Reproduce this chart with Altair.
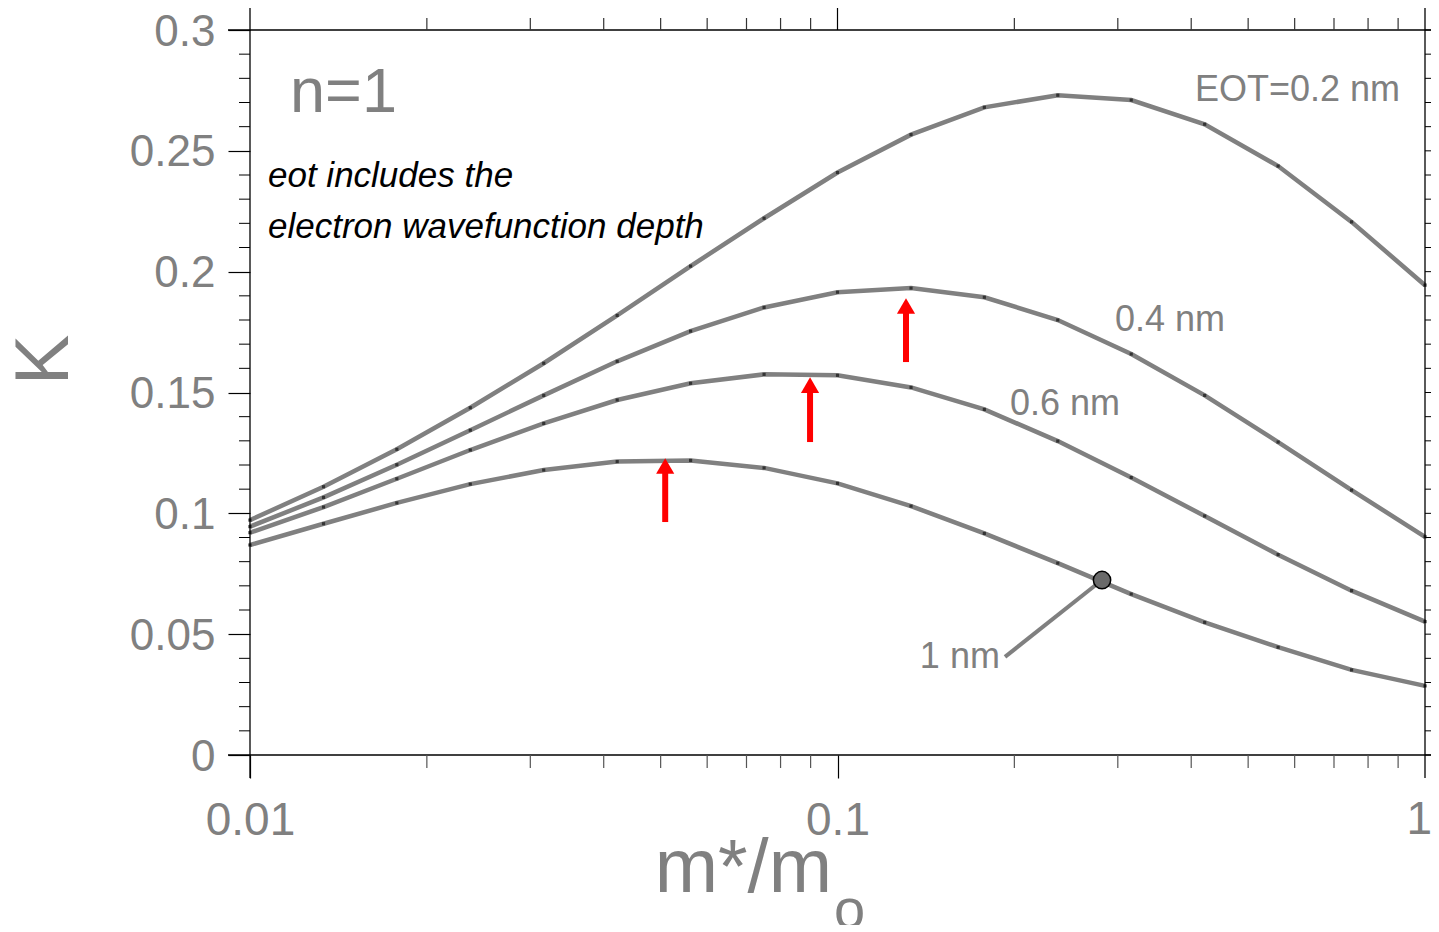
import altair as alt
import pandas as pd

# ---------------- data ----------------
m_ratio = [0.01, 0.01334, 0.01778, 0.02371, 0.03162, 0.04217, 0.05623, 0.07499,
           0.1, 0.1334, 0.1778, 0.2371, 0.3162, 0.4217, 0.5623, 0.7499, 1.0]
k_eot02 = [0.0972, 0.1110, 0.1265, 0.1437, 0.1621, 0.1819, 0.2023, 0.2221, 0.2410,
           0.2567, 0.2680, 0.2730, 0.2710, 0.2610, 0.2437, 0.2206, 0.1944]
k_eot04 = [0.0945, 0.1066, 0.1201, 0.1344, 0.1488, 0.1629, 0.1754, 0.1852, 0.1915,
           0.1932, 0.1894, 0.1800, 0.1659, 0.1488, 0.1295, 0.1096, 0.0903]
k_eot06 = [0.0920, 0.1026, 0.1143, 0.1262, 0.1372, 0.1469, 0.1538, 0.1575, 0.1571,
           0.1521, 0.1430, 0.1299, 0.1148, 0.0989, 0.0829, 0.0680, 0.0552]
k_eot10 = [0.0869, 0.0957, 0.1043, 0.1121, 0.1179, 0.1214, 0.1219, 0.1188, 0.1124,
           0.1030, 0.0917, 0.0794, 0.0666, 0.0549, 0.0446, 0.0352, 0.0286]
series_names = ["0.2 nm", "0.4 nm", "0.6 nm", "1 nm"]

# curve labels
label_text = ["EOT=0.2 nm", "0.4 nm", "0.6 nm"]
label_m = [0.406, 0.2967, 0.1966]
label_k = [0.2752, 0.1800, 0.1452]
label1_text = ["1 nm"]
label1_m = [0.189]
label1_k = [0.0406]

# leader line + circle marker for "1 nm"
leader_m = [0.1928]
leader_k = [0.0406]
circle_m = [0.282]
circle_k = [0.0724]

# red arrows (peak positions)
arrow_m = [0.0509, 0.0898, 0.1308]
arrow_tail = [0.0964, 0.1295, 0.1626]
arrow_shaft_end = [0.1190, 0.1525, 0.1850]
arrow_tip = [0.1229, 0.1564, 0.1891]

# annotation text
note_lines = ["eot includes the", "electron wavefunction depth"]
note_m = [0.01073, 0.01073]
note_k = [0.2396, 0.2185]
n_text = ["n=1"]
n_m = [0.0117]
n_k = [0.2740]

# axes ticks
x_major = [0.01, 0.1, 1]
x_minor = [0.02, 0.03, 0.04, 0.05, 0.06, 0.07, 0.08, 0.09,
           0.2, 0.3, 0.4, 0.5, 0.6, 0.7, 0.8, 0.9]
y_major = [0, 0.05, 0.1, 0.15, 0.2, 0.25, 0.3]
y_minor = [0.01, 0.02, 0.03, 0.04, 0.06, 0.07, 0.08, 0.09, 0.11, 0.12, 0.13, 0.14,
           0.16, 0.17, 0.18, 0.19, 0.21, 0.22, 0.23, 0.24, 0.26, 0.27, 0.28, 0.29]
y_all = sorted(y_major + y_minor)

# ---------------- build ----------------
rows = []
for name, ks in zip(series_names, [k_eot02, k_eot04, k_eot06, k_eot10]):
    for m, k in zip(m_ratio, ks):
        rows.append({"m": m, "K": k, "eot": name})
df = pd.DataFrame(rows)

W, H = 1175, 725
GRAY = "#808080"
FONT = "Liberation Sans"
xscale = alt.Scale(type="log", domain=[0.01, 1], nice=False)
yscale = alt.Scale(domain=[0, 0.3], nice=False, zero=False)
one = pd.DataFrame({"z": [0]})

lines = alt.Chart(df).mark_line(color=GRAY, strokeWidth=4.5).encode(
    x=alt.X("m:Q", scale=xscale,
            axis=alt.Axis(values=x_major[:-1], format="~g", tickSize=23, tickColor="black",
                          tickWidth=1.2, labelFontSize=46, labelColor=GRAY, labelFont=FONT,
                          labelPadding=20, labelFlush=False, domain=False, grid=False,
                          title=None)),
    y=alt.Y("K:Q", scale=yscale,
            axis=alt.Axis(values=y_major, format="~g", tickSize=22, tickColor="black",
                          tickWidth=1.2, labelFontSize=44, labelColor=GRAY, labelFont=FONT,
                          labelPadding=13, labelOffset=2, domain=False, grid=False,
                          title=None)),
    detail="eot:N",
)
points = alt.Chart(df).mark_point(shape="square", filled=True, size=10, color="#333333",
                                  opacity=1).encode(x="m:Q", y="K:Q")

# last x tick label, nudged so it stays inside the page
last_xlabel = alt.Chart(pd.DataFrame({"m": x_major[-1:], "t": ["1"]})).mark_text(
    align="right", baseline="top", fontSize=46, font=FONT, color=GRAY, dx=7).encode(
    x="m:Q", y=alt.value(H + 43), text="t:N")

def hrule(x0, x1, y):
    return alt.Chart(one).mark_rule(color="black", strokeWidth=1.3).encode(
        x=alt.value(x0), x2=alt.value(x1), y=alt.value(y))

def vrule(x, y0, y1):
    return alt.Chart(one).mark_rule(color="black", strokeWidth=1.3).encode(
        x=alt.value(x), y=alt.value(y0), y2=alt.value(y1))

frame = [hrule(-22, W + 14, 0), hrule(-22, W + 14, H), vrule(0, -23, H + 23), vrule(W, -23, H + 23)]

left_minor = alt.Chart(pd.DataFrame({"K": y_minor})).mark_rule(color="black", strokeWidth=1).encode(
    y="K:Q", x=alt.value(-11), x2=alt.value(0))
right_ticks = alt.Chart(pd.DataFrame({"K": y_all})).mark_rule(color="black", strokeWidth=1).encode(
    y="K:Q", x=alt.value(W), x2=alt.value(W + 14))
bottom_minor = alt.Chart(pd.DataFrame({"m": x_minor})).mark_rule(color="#555555", strokeWidth=1.2).encode(
    x="m:Q", y=alt.value(H), y2=alt.value(H + 13))
top_minor = alt.Chart(pd.DataFrame({"m": x_minor})).mark_rule(color="#333333", strokeWidth=1.2).encode(
    x="m:Q", y=alt.value(-12), y2=alt.value(0))
top_major = alt.Chart(pd.DataFrame({"m": [0.1]})).mark_rule(color="black", strokeWidth=1.2).encode(
    x="m:Q", y=alt.value(-23), y2=alt.value(0))

labels = alt.Chart(pd.DataFrame({"m": label_m, "K": label_k, "t": label_text})).mark_text(
    align="left", baseline="middle", fontSize=36, font=FONT, color=GRAY).encode(
    x="m:Q", y="K:Q", text="t:N")
label1 = alt.Chart(pd.DataFrame({"m": label1_m, "K": label1_k, "t": label1_text})).mark_text(
    align="right", baseline="middle", fontSize=36, font=FONT, color=GRAY).encode(
    x="m:Q", y="K:Q", text="t:N")

leader = alt.Chart(pd.DataFrame({"m": leader_m, "K": leader_k, "m2": circle_m, "K2": circle_k})).mark_rule(
    color=GRAY, strokeWidth=4).encode(x="m:Q", y="K:Q", x2="m2:Q", y2="K2:Q")
circle = alt.Chart(pd.DataFrame({"m": circle_m, "K": circle_k})).mark_point(
    shape="circle", filled=True, size=300, color="#6a6a6a", stroke="black", strokeWidth=1.5,
    opacity=1).encode(x="m:Q", y="K:Q")

arrows_df = pd.DataFrame({"m": arrow_m, "K": arrow_tail, "t1": arrow_shaft_end, "tip": arrow_tip})
shafts = alt.Chart(arrows_df).mark_rule(color="#ff0000", strokeWidth=6).encode(
    x="m:Q", y="K:Q", y2="t1:Q")
heads = alt.Chart(arrows_df).mark_point(shape="triangle-up", filled=True, size=330,
                                        color="#ff0000", opacity=1, yOffset=8).encode(
    x="m:Q", y=alt.Y("tip:Q", title=None))

note = alt.Chart(pd.DataFrame({"m": note_m, "K": note_k, "t": note_lines})).mark_text(
    align="left", baseline="middle", fontSize=35, fontStyle="italic",
    font=FONT, color="black").encode(x="m:Q", y="K:Q", text="t:N")
ntext = alt.Chart(pd.DataFrame({"m": n_m, "K": n_k, "t": n_text})).mark_text(
    align="left", baseline="middle", fontSize=63, font=FONT, color=GRAY).encode(
    x="m:Q", y="K:Q", text="t:N")

ytitle = alt.Chart(pd.DataFrame({"t": ["K"]})).mark_text(
    align="center", baseline="middle", fontSize=76, font=FONT, color=GRAY, angle=270).encode(
    x=alt.value(-205), y=alt.value(330), text="t:N")
xtitle = alt.Chart(pd.DataFrame({"t": ["m*/m"]})).mark_text(
    align="right", baseline="alphabetic", fontSize=76, font=FONT, color=GRAY).encode(
    x=alt.value(582), y=alt.value(862), text="t:N")
xsub = alt.Chart(pd.DataFrame({"t": ["o"]})).mark_text(
    align="left", baseline="alphabetic", fontSize=56, font=FONT, color=GRAY).encode(
    x=alt.value(584), y=alt.value(898), text="t:N")

chart = alt.layer(
    lines, points, *frame, left_minor, right_ticks, bottom_minor, top_minor, top_major,
    leader, circle, shafts, heads, labels, label1, note, ntext, ytitle, xtitle, xsub,
    last_xlabel
).properties(
    width=W, height=H,
    padding={"left": 242, "top": 22, "right": 6, "bottom": 170},
    autosize=alt.AutoSizeParams(type="none"),
).configure_view(strokeWidth=0)

chart.save("out.html", embed_options={"renderer": "svg", "actions": False})
